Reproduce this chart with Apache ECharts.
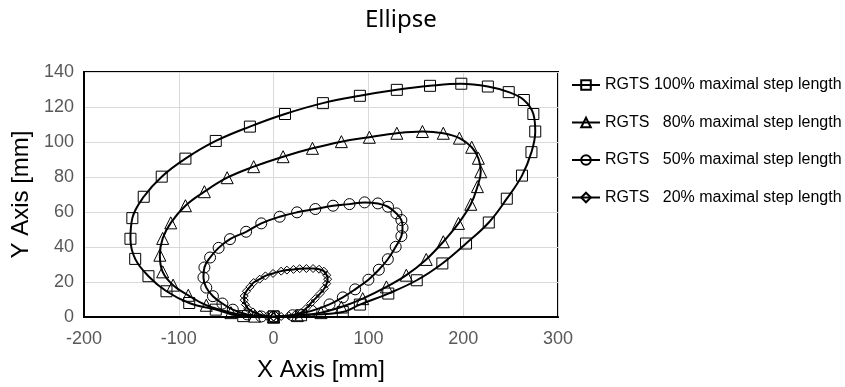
<!DOCTYPE html>
<html>
<head>
<meta charset="utf-8">
<script src="https://cdn.jsdelivr.net/npm/echarts@6/dist/echarts.min.js"></script>
<style>
  html, body { margin: 0; padding: 0; background: #fff; }
  #chart { width: 845px; height: 387px; }
</style>
</head>
<body>
<div id="chart"></div>
<script>
// 图例名称
const seriesNames = [
  "RGTS 100% maximal step length",
  "RGTS   80% maximal step length",
  "RGTS   50% maximal step length",
  "RGTS   20% maximal step length",
];

// 100% (方块)
const x100 = [0, 29, 73, 91, 121, 151, 178, 203, 227, 246, 262, 272, 276, 274, 264, 248, 226, 198, 165, 130, 91, 52, 12, -25, -61, -93, -118, -137, -149, -151, -146, -132, -113, -89, -61, -32, 0];
const y100 = [0.3, 1, 2.9, 7.1, 13.4, 21, 30.6, 42, 54, 67.6, 80.8, 94.2, 106, 116, 124, 128.5, 131.7, 133.3, 132.1, 129.8, 126.4, 122.2, 116, 108.8, 100.6, 90.5, 80.2, 68.7, 56.5, 44.7, 33.2, 23.3, 14.7, 8, 4.2, 0.5, 0.3];

// 80% (三角)
const x80 = [0, 25, 50, 71.5, 94, 119, 140, 161, 179, 195, 208, 215, 218.5, 216, 209, 196, 179, 157, 130, 101, 71.5, 41, 10, -21, -49, -73, -93, -108.5, -117, -120, -117, -106, -90, -71, -45, -20, 0];
const y80 = [0, 0.8, 2.5, 5.7, 10.5, 17.2, 23.9, 32.9, 43, 53.5, 64.4, 74.5, 83, 90.7, 97, 102.2, 105, 106, 105, 102.7, 100.2, 96.4, 91.6, 85.9, 79.6, 71.6, 63.6, 53.8, 44.9, 35.3, 25.8, 18.2, 12.4, 6.7, 2.5, 0.5, 0];

// 50% (圆)
const x50 = [0, 20, 40, 59, 73, 86, 100, 111, 120.5, 128.8, 134.8, 136, 134.8, 129.5, 120.7, 110, 96, 80, 62.7, 44, 24.7, 6.4, -13, -29, -46, -58, -67, -73, -74, -71, -64, -54, -43, -28, -13, 0];
const y50 = [0, 1, 3.5, 7.2, 11.2, 15.8, 21.3, 27, 33, 40.1, 46.2, 51, 55.4, 59.2, 63, 64.9, 65.5, 64.5, 63.6, 61.7, 59.8, 57.3, 53.5, 48.7, 44.5, 39.5, 34, 28.3, 22.6, 16.8, 11.9, 7.7, 4.2, 1.5, 0.3, 0];

// 20% (菱形)
const x20 = [0, 8, 16, 23, 29, 34, 39, 44, 49, 53.5, 56, 57, 56, 53, 48, 41.6, 34.6, 27.5, 21, 14, 8, -0.6, -8.6, -14.7, -21, -25, -28.7, -31, -31, -29.7, -27, -21.7, -14.7, -7, 0];
const y20 = [0, 0.3, 0.8, 1.5, 2.5, 4.8, 7.7, 10.5, 13.4, 16.3, 19.1, 21.6, 23.9, 26.2, 27.3, 27.7, 27.7, 27.6, 27.2, 26.8, 26.2, 24.9, 23.5, 21.6, 19.7, 17.2, 14.7, 12, 9.6, 7.1, 4.8, 2.9, 1.4, 0.4, 0];

const pairs = (xs, ys) => xs.map((x, i) => [x, ys[i]]);

const makeSeries = (name, symbol, size, xs, ys) => ({
  name: name,
  type: "line",
  data: pairs(xs, ys),
  smooth: 0.4,
  symbol: symbol,
  symbolSize: size,
  showAllSymbol: true,
  lineStyle: { color: "#000", width: 2 },
  itemStyle: { color: "rgba(0,0,0,0)", borderColor: "#000", borderWidth: 1 },
  emphasis: { disabled: true },
});

const axisFont = "Liberation Sans, Arial, sans-serif";

const chart = echarts.init(document.getElementById("chart"));

const option = {
  animation: false,
  backgroundColor: "#fff",
  title: {
    text: "Ellipse",
    left: 360,
    top: 3,
    textStyle: {
      fontFamily: "Noto Sans",
      fontSize: 24,
      fontWeight: "normal",
      color: "#000",
    },
  },
  legend: {
    orient: "vertical",
    left: 571,
    top: 77,
    padding: 0,
    itemWidth: 28,
    itemHeight: 12,
    itemGap: 21.5,
    data: seriesNames,
    textStyle: { fontFamily: axisFont, fontSize: 16, color: "#000" },
  },
  grid: {
    left: 84,
    right: 287,
    top: 72,
    bottom: 70,
    show: true,
    borderColor: "#000",
    borderWidth: 2,
  },
  xAxis: {
    type: "value",
    min: -200,
    max: 300,
    interval: 100,
    name: "X Axis [mm]",
    nameLocation: "middle",
    nameGap: 41,
    nameTextStyle: { fontFamily: axisFont, fontSize: 24, color: "#000" },
    axisLine: { onZero: false, lineStyle: { color: "#000", width: 2 } },
    axisTick: { show: false },
    axisLabel: { color: "#595959", fontFamily: axisFont, fontSize: 18, margin: 13 },
    splitLine: { lineStyle: { color: "#d9d9d9", width: 1 } },
  },
  yAxis: {
    type: "value",
    min: 0,
    max: 140,
    interval: 20,
    name: "Y Axis [mm]",
    nameLocation: "middle",
    nameGap: 47,
    nameTextStyle: { fontFamily: axisFont, fontSize: 24, color: "#000" },
    axisLine: { show: true, onZero: false, lineStyle: { color: "#000", width: 2 } },
    axisTick: { show: false },
    axisLabel: { color: "#595959", fontFamily: axisFont, fontSize: 18, margin: 10 },
    splitLine: { lineStyle: { color: "#d9d9d9", width: 1 } },
  },
  series: [
    makeSeries(seriesNames[0], "rect", 11, x100, y100),
    makeSeries(seriesNames[1], "triangle", 12, x80, y80),
    makeSeries(seriesNames[2], "circle", 11, x50, y50),
    makeSeries(seriesNames[3], "diamond", 8, x20, y20),
  ],
};

chart.setOption(option);
</script>
</body>
</html>
